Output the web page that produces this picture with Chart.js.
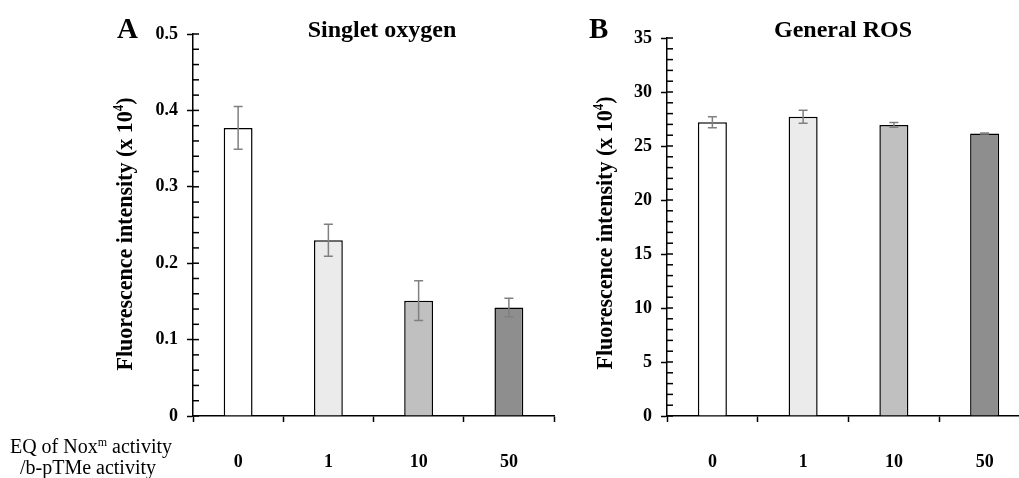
<!DOCTYPE html>
<html>
<head>
<meta charset="utf-8">
<script src="https://cdn.jsdelivr.net/npm/chart.js@4.4.1/dist/chart.umd.min.js"></script>
<style>
  html, body { margin: 0; padding: 0; background: #fff; overflow: hidden; }
  body { width: 1019px; height: 478px; position: relative; }
  canvas { position: absolute; top: 0; }
  #chartA { left: 0; }
  #chartB { left: 560px; }
</style>
</head>
<body>
<canvas id="chartA" width="565" height="478"></canvas>
<canvas id="chartB" width="480" height="478"></canvas>
<script>
const categories = ['0', '1', '10', '50'];
const barColors = ['#ffffff', '#ebebeb', '#c0c0c0', '#8e8e8e'];

const singletValues = [0.377, 0.230, 0.151, 0.142];
const singletErrors = [0.028, 0.021, 0.026, 0.012];

const rosValues = [27.2, 27.7, 26.95, 26.15];
const rosErrors = [0.5, 0.6, 0.22, 0.05];

const SERIF = "'Liberation Serif', 'Times New Roman', serif";

// draws minor ticks, error bars and all the loose text
const decor = {
    id: 'decor',
    afterDraw(chart, args, opts) {
        const ctx = chart.ctx;
        const xs = chart.scales.x;
        const ys = chart.scales.y;
        const area = chart.chartArea;

        ctx.save();
        // minor ticks (inside the axis)
        ctx.strokeStyle = '#000';
        ctx.lineWidth = 1.5;
        const n = Math.round((ys.max - ys.min) / opts.minor);
        for (let i = 0; i <= n; i++) {
            const py = ys.getPixelForValue(ys.min + i * opts.minor);
            ctx.beginPath();
            ctx.moveTo(area.left, py);
            ctx.lineTo(area.left + 6, py);
            ctx.stroke();
        }

        // error bars
        const vals = chart.data.datasets[0].data;
        ctx.strokeStyle = '#808080';
        ctx.lineWidth = 1.5;
        vals.forEach((v, i) => {
            const cx = xs.getPixelForValue(i);
            const top = ys.getPixelForValue(v + opts.errors[i]);
            const bot = ys.getPixelForValue(v - opts.errors[i]);
            ctx.beginPath();
            ctx.moveTo(cx, top); ctx.lineTo(cx, bot);
            ctx.moveTo(cx - 4.5, top); ctx.lineTo(cx + 4.5, top);
            ctx.moveTo(cx - 4.5, bot); ctx.lineTo(cx + 4.5, bot);
            ctx.stroke();
        });

        ctx.fillStyle = '#000';
        // panel letter
        ctx.font = 'bold 29px ' + SERIF;
        ctx.textAlign = 'left';
        ctx.textBaseline = 'alphabetic';
        ctx.fillText(opts.letter, opts.letterX, 38);

        // panel title
        ctx.font = 'bold 24px ' + SERIF;
        ctx.textAlign = 'center';
        ctx.fillText(opts.title, opts.titleX, 37);

        // y axis title with superscript 4, squeezed to the length seen in the picture
        ctx.translate(opts.yTitleX, opts.yTitleY);
        ctx.rotate(-Math.PI / 2);
        ctx.textAlign = 'left';
        ctx.textBaseline = 'middle';
        const big = 'bold 24px ' + SERIF;
        const small = 'bold 14px ' + SERIF;
        const p1 = 'Fluorescence intensity (x 10', p2 = '4', p3 = ')';
        ctx.font = big; const w1 = ctx.measureText(p1).width, w3 = ctx.measureText(p3).width;
        ctx.font = small; const w2 = ctx.measureText(p2).width;
        const total = w1 + w2 + w3;
        ctx.scale(273 / total, 1);
        let x0 = -total / 2;
        ctx.font = big; ctx.fillText(p1, x0, 0);
        ctx.font = small; ctx.fillText(p2, x0 + w1, -7);
        ctx.font = big; ctx.fillText(p3, x0 + w1 + w2, 0);
        ctx.restore();

        // x axis caption (left panel only)
        if (opts.caption) {
            ctx.save();
            ctx.fillStyle = '#000';
            ctx.textBaseline = 'alphabetic';
            ctx.textAlign = 'left';
            const f = '20px ' + SERIF, fs = '12px ' + SERIF;
            const a = 'EQ of Nox', m = 'm', b = ' activity';
            ctx.font = f; const wa = ctx.measureText(a).width, wb = ctx.measureText(b).width;
            ctx.font = fs; const wm = ctx.measureText(m).width;
            let sx = 91 - (wa + wm + wb) / 2;
            ctx.font = f; ctx.fillText(a, sx, 453);
            ctx.font = fs; ctx.fillText(m, sx + wa, 446);
            ctx.font = f; ctx.fillText(b, sx + wa + wm, 453);
            ctx.textAlign = 'center';
            ctx.fillText('/b-pTMe activity', 88, 474);
            ctx.restore();
        }
    }
};

function makeChart(id, values, errors, yMax, yStep, minor, yWidth, pad, decorOpts) {
    const ctx = document.getElementById(id).getContext('2d');
    return new Chart(ctx, {
        type: 'bar',
        data: {
            labels: categories,
            datasets: [{
                data: values,
                backgroundColor: barColors,
                borderColor: '#000',
                borderWidth: 1.5,
                borderSkipped: 'start',
                categoryPercentage: 1,
                barPercentage: 0.32,
            }],
        },
        options: {
            responsive: false,
            animation: false,
            layout: { padding: pad },
            plugins: {
                legend: { display: false },
                tooltip: { enabled: false },
                decor: decorOpts,
            },
            scales: {
                x: {
                    grid: {
                        offset: true,
                        drawOnChartArea: false,
                        tickLength: 6,
                        tickColor: '#000',
                        tickWidth: 1.5,
                    },
                    border: { color: '#000', width: 1.5 },
                    ticks: {
                        padding: 30,
                        color: '#000',
                        font: { family: SERIF, size: 18, weight: 'bold' },
                    },
                    afterFit: (scale) => { scale.height = 62; },
                },
                y: {
                    min: 0,
                    max: yMax,
                    grid: {
                        drawOnChartArea: false,
                        tickLength: 6,
                        tickColor: '#000',
                        tickWidth: 1.5,
                    },
                    border: { color: '#000', width: 1.5 },
                    ticks: {
                        stepSize: yStep,
                        padding: 9,
                        color: '#000',
                        font: { family: SERIF, size: 18, weight: 'bold' },
                    },
                    afterFit: (scale) => { scale.width = yWidth; },
                },
            },
        },
        plugins: [decor],
    });
}

makeChart('chartA', singletValues, singletErrors, 0.5, 0.1, 0.02, 193,
    { top: 34, right: 11, bottom: 0, left: 0 },
    { minor: 0.02, errors: singletErrors, letter: 'A', letterX: 117, title: 'Singlet oxygen',
      titleX: 382, yTitleX: 126, yTitleY: 234, caption: true });

makeChart('chartB', rosValues, rosErrors, 35, 5, 1, 107,
    { top: 38, right: 10, bottom: 0, left: 0 },
    { minor: 1, errors: rosErrors, letter: 'B', letterX: 29, title: 'General ROS',
      titleX: 283, yTitleX: 46, yTitleY: 233, caption: false });
</script>
</body>
</html>
